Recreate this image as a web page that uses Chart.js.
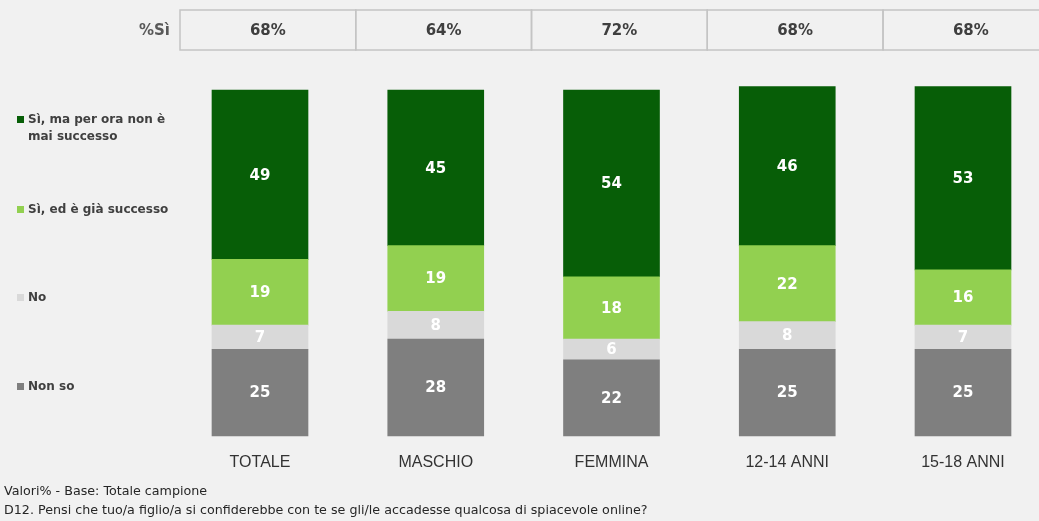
<!DOCTYPE html>
<html lang="it">
<head>
<meta charset="utf-8">
<title>Confidenza dei figli</title>
<script src="https://cdn.jsdelivr.net/npm/chart.js@4/dist/chart.umd.min.js"></script>
<style>
    html, body { margin: 0; padding: 0; background: #f1f1f1; overflow: hidden; }
    #wrap { position: relative; width: 1039px; height: 521px; }
</style>
</head>
<body>
<div id="wrap"><canvas id="chart" width="1039" height="521"></canvas></div>
<script>
const categories = ['TOTALE', 'MASCHIO', 'FEMMINA', '12-14 ANNI', '15-18 ANNI'];
const percSi = [68, 64, 72, 68, 68];

// stacked from the bottom up
const nonSo = [25, 28, 22, 25, 25];
const no = [7, 8, 6, 8, 7];
const siGiaSuccesso = [19, 19, 18, 22, 16];
const siMaiSuccesso = [49, 45, 54, 46, 53];

const FONT = "'Liberation Sans', Arial, sans-serif";
const WIDE = "'DejaVu Sans', sans-serif";

// legend rows drawn on the left side
const legendItems = [
    { lines: ['Sì, ma per ora non è', 'mai successo'], color: '#075e07', y: 120 },
    { lines: ['Sì, ed è già successo'], color: '#92d050', y: 210 },
    { lines: ['No'], color: '#d9d9d9', y: 298 },
    { lines: ['Non so'], color: '#7f7f7f', y: 387 }
];

const sidePanels = {
    id: 'sidePanels',
    afterDraw(chart) {
        const ctx = chart.ctx;
        const x = chart.scales.x;
        ctx.save();

        // header row with the %Sì totals
        const step = x.getPixelForValue(1) - x.getPixelForValue(0);
        const top = 10, h = 40;
        ctx.strokeStyle = '#c4c4c4';
        ctx.lineWidth = 1.5;
        ctx.textBaseline = 'middle';
        ctx.textAlign = 'center';
        ctx.font = 'bold 15px ' + WIDE;
        percSi.forEach((v, i) => {
            const left = x.getPixelForValue(i) - 80;
            ctx.strokeRect(left, top, step, h);
            ctx.fillStyle = '#3f3f3f';
            ctx.fillText(v + '%', left + step / 2, top + h / 2 + 1);
        });
        ctx.textAlign = 'right';
        ctx.fillStyle = '#595959';
        ctx.fillText('%Sì', 170, top + h / 2 + 1);

        // legend
        ctx.textAlign = 'left';
        ctx.font = 'bold 12px ' + WIDE;
        legendItems.forEach(item => {
            ctx.fillStyle = item.color;
            ctx.fillRect(17, item.y - 4, 7, 7);
            ctx.fillStyle = '#404040';
            item.lines.forEach((t, k) => ctx.fillText(t, 28, item.y + k * 17));
        });

        // notes under the chart
        ctx.font = '12.7px ' + WIDE;
        ctx.fillStyle = '#262626';
        ctx.fillText('Valori% - Base: Totale campione', 4, 492);
        ctx.fillText('D12. Pensi che tuo/a figlio/a si confiderebbe con te se gli/le accadesse qualcosa di spiacevole online?', 4, 511);
        ctx.restore();
    }
};

// white value labels in the middle of each segment
const segmentLabels = {
    id: 'segmentLabels',
    afterDatasetsDraw(chart) {
        const ctx = chart.ctx;
        ctx.save();
        ctx.font = 'bold 15px ' + WIDE;
        ctx.fillStyle = '#ffffff';
        ctx.textAlign = 'center';
        ctx.textBaseline = 'middle';
        chart.data.datasets.forEach((ds, di) => {
            chart.getDatasetMeta(di).data.forEach((bar, i) => {
                const p = bar.getProps(['x', 'y', 'base'], true);
                ctx.fillText(String(ds.data[i]), p.x, (p.y + p.base) / 2 + 1);
            });
        });
        ctx.restore();
    }
};

new Chart(document.getElementById('chart'), {
    type: 'bar',
    data: {
        labels: categories,
        datasets: [
            { label: 'Non so', data: nonSo, backgroundColor: '#7f7f7f' },
            { label: 'No', data: no, backgroundColor: '#d9d9d9' },
            { label: 'Sì, ed è già successo', data: siGiaSuccesso, backgroundColor: '#92d050' },
            { label: 'Sì, ma per ora non è mai successo', data: siMaiSuccesso, backgroundColor: '#075e07' }
        ]
    },
    options: {
        responsive: false,
        devicePixelRatio: 1,
        animation: false,
        layout: { padding: { left: 260, right: 76, top: 90, bottom: 40 } },
        datasets: { bar: { barThickness: 96, clip: false, borderWidth: 0 } },
        plugins: {
            legend: { display: false },
            tooltip: { enabled: false }
        },
        scales: {
            x: {
                stacked: true,
                offset: false,
                grid: { display: false },
                border: { display: false },
                ticks: { color: '#333333', font: { family: FONT, size: 16 }, padding: 9, maxRotation: 0 }
            },
            y: {
                stacked: true,
                display: false,
                min: 0,
                max: 100
            }
        }
    },
    plugins: [segmentLabels, sidePanels]
});
</script>
</body>
</html>
